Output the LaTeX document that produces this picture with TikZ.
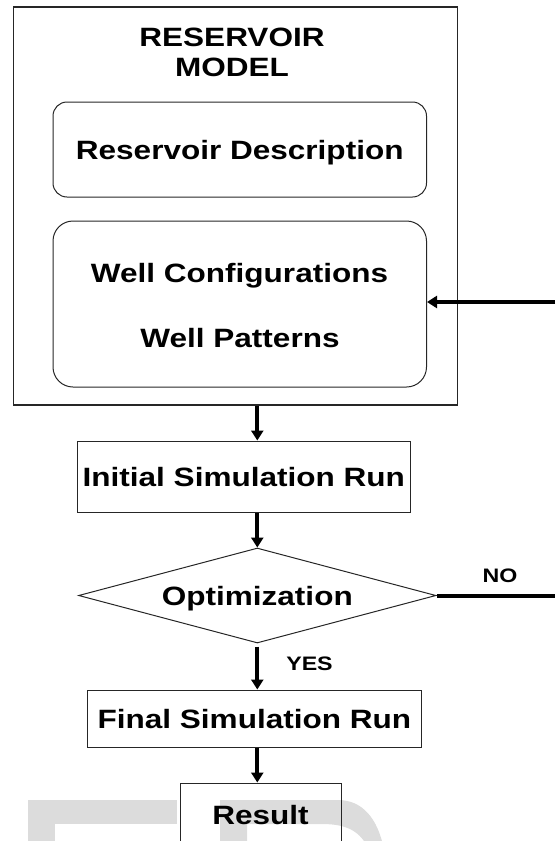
\documentclass[tikz,border=0pt]{standalone}
\usepackage{fontspec}
\setmainfont{Liberation Sans}
\usepackage{graphicx}
\usetikzlibrary{shapes.geometric,arrows.meta}

\definecolor{wmgray}{HTML}{DCDCDC}
% widened bold lettering used throughout the chart
\newcommand{\wtxt}[1]{\scalebox{1.19}[1]{#1}}

\begin{document}
\begin{tikzpicture}[x=1pt,y=-1pt,
  lbl/.style={font=\fontsize{26.5}{30}\selectfont\bfseries, text height=19pt, text depth=0pt, inner sep=0pt},
  small/.style={font=\fontsize{19.5}{22}\selectfont\bfseries, text height=14pt, text depth=0pt, inner sep=0pt},
  box/.style={draw=black!85, line width=1pt, inner sep=0pt, lbl},
  flow/.style={line width=4pt, -{Triangle[length=10pt,width=12pt]}},
  wm/.style={fill=wmgray, draw=none}
]
\useasboundingbox (0,0) rectangle (555,841);
\clip (0,0) rectangle (555,841);

% faint background lettering at the foot of the page
\fill[wm] (28,800) rectangle (177,824);
\fill[wm] (28,824) rectangle (55,850);
\fill[wm] (220,800) -- (338,800) .. controls (362,800) and (378,818) .. (384,850)
  -- (369,850) .. controls (361,832) and (348,824) .. (322,824)
  -- (247,824) -- (247,850) -- (220,850) -- cycle;

% reservoir model block
\node[box, line width=1.2pt, minimum width=443.9pt, minimum height=398pt] (outer) at (235.75,206) {};
\node[lbl] (title) at (232,37) {\wtxt{RESERVOIR}};
\node[lbl] (title2) at (232,67) {\wtxt{MODEL}};
\node[box, rounded corners=14pt, minimum width=373.5pt, minimum height=95pt] (desc) at (239.75,149.5) {\wtxt{Reservoir Description}};
\node[box, rounded corners=20pt, minimum width=373.5pt, minimum height=166pt] (wells) at (239.75,304) {};
\node[lbl] (wconf) at (239.5,273) {\wtxt{Well Configurations}};
\node[lbl] (wpat) at (240,338) {\wtxt{Well Patterns}};

% simulation flow
\node[box, minimum width=333.6pt, minimum height=71pt] (init) at (243.8,476.5) {\wtxt{Initial Simulation Run}};
\node[box, shape=diamond, shape aspect=3.76, minimum width=357.4pt, minimum height=95pt] (opt) at (257.3,595.5) {\wtxt{Optimization}};
\node[box, minimum width=333.2pt, minimum height=57pt] (final) at (254.4,718.5) {\wtxt{Final Simulation Run}};
\node[box, minimum width=161pt, minimum height=64pt] (result) at (260.5,815) {\wtxt{Result}};

% connectors
\coordinate (feed) at (555,302);
\coordinate (noend) at (555,595.5);
\draw[flow] (feed) -- (feed -| wells.east);
\draw[flow] (outer.south -| opt.center) -- (init.north -| opt.center);
\draw[flow] (init.south -| opt.center) -- (opt.north);
\draw[line width=4pt] (opt.east) -- (noend);
\draw[flow, shorten <=3pt] (opt.south) -- (final.north -| opt.south);
\draw[flow] (final.south -| opt.center) -- (result.north -| opt.center);

% branch labels
\node[small] (nolbl) at (500,575) {\wtxt{NO}};
\node[small] (yeslbl) at (309.5,663) {\wtxt{YES}};
\end{tikzpicture}
\end{document}
